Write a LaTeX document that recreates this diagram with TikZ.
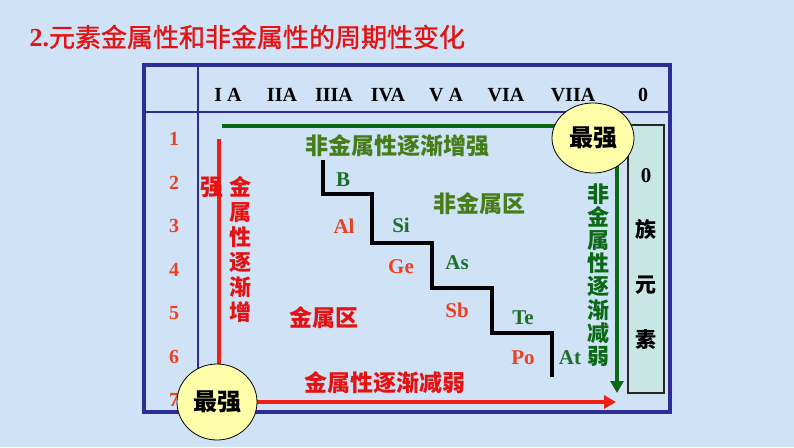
\documentclass[tikz,border=0pt]{standalone}
\usepackage{fontspec}
\setmainfont{Liberation Serif}
\newfontfamily\cjk{Noto Sans CJK SC}
\newfontfamily\cjktitle[FakeBold=1.2]{Noto Sans CJK SC}
\usetikzlibrary{shapes.geometric,arrows.meta}
\definecolor{bgblue}{RGB}{208,226,245}
\definecolor{frameblue}{RGB}{45,45,150}
\definecolor{titlered}{RGB}{228,18,18}
\definecolor{hotred}{RGB}{240,30,20}
\definecolor{lblred}{RGB}{235,65,35}
\definecolor{darkgreen}{RGB}{10,105,20}
\definecolor{lblgreen}{RGB}{70,125,25}
\definecolor{elgreen}{RGB}{30,110,40}
\definecolor{paleyellow}{RGB}{255,255,170}
\definecolor{palecyan}{RGB}{200,230,228}
\pgfdeclarelayer{under}
\pgfsetlayers{under,main}
\tikzset{
  frameline/.style={draw=frameblue,line width=4.5pt},
  gridline/.style={draw=frameblue,line width=2.5pt},
  grouplbl/.style={font=\fontsize{20}{20}\selectfont\bfseries},
  periodlbl/.style={font=\fontsize{20}{20}\selectfont\bfseries,text=lblred},
  metal/.style={font=\fontsize{21}{21}\selectfont\bfseries,text=lblred},
  nonmetal/.style={font=\fontsize{21}{21}\selectfont\bfseries,text=elgreen},
  cjklbl/.style={font=\cjk\fontsize{23}{23}\selectfont\bfseries,inner sep=0pt},
  maxbubble/.style={ellipse,draw=black,thick,fill=paleyellow,inner sep=0pt,
    font=\cjk\fontsize{24}{24}\selectfont\bfseries},
  redarrow/.style={draw=hotred,line width=4pt},
  greenarrow/.style={draw=darkgreen,line width=4pt},
  stair/.style={draw=black,line width=4pt},
  tip/.style={-{Triangle[length=12pt,width=13pt]}}
}
\begin{document}
\begin{tikzpicture}[x=1pt,y=-1pt]
  \useasboundingbox (0,0) rectangle (794,447);
  \begin{pgfonlayer}{under}
    \fill[bgblue] (0,0) rectangle (794,447);
  \end{pgfonlayer}
  \node[anchor=west,text=titlered,font=\fontsize{26}{26}\selectfont] (title) at (26,37)
    {\textbf{2.}{\cjktitle 元素金属性和非金属性的周期性变化}};
  % table frame
  \draw[frameline] (144,65) rectangle (670,412);
  \draw[gridline] (144,112) -- (670,112);
  \draw[gridline] (198,65) -- (198,412);
  \foreach \gx/\gname [count=\i] in {228/I A,282/IIA,334/IIIA,388/IVA,446/V A,506/VIA,573/VIIA,643/0} {
    \node[grouplbl] (grp\i) at (\gx,95) {\gname};
  }
  \foreach \r in {1,...,7} {
    \node[periodlbl] (per\r) at (174,{139+43.5*(\r-1)}) {\r};
  }
  % border between metals and nonmetals
  \draw[stair] (323,160) -- (323,194) -- (372,194) -- (372,243) -- (432,243)
    -- (432,288) -- (492,288) -- (492,333) -- (552,333) -- (552,377);
  \node[nonmetal] (B) at (343,180) {B};
  \node[metal] (Al) at (344,226) {Al};
  \node[nonmetal] (Si) at (401,225) {Si};
  \node[metal] (Ge) at (401,267) {Ge};
  \node[nonmetal] (As) at (457,263) {As};
  \node[metal] (Sb) at (457,310) {Sb};
  \node[nonmetal] (Te) at (523,318) {Te};
  \node[metal] (Po) at (523,358) {Po};
  \node[nonmetal] (At) at (570,358) {At};
  % labels
  \node[cjklbl,text=lblgreen] (nmup) at (397,146) {非金属性逐渐增强};
  \node[cjklbl,text=lblgreen] (nmzone) at (479,204) {非金属区};
  \node[cjklbl,text=titlered] (mzone) at (324,318) {金属区};
  \node[cjklbl,text=titlered] (mdown) at (385,383) {金属性逐渐减弱};
  \node[cjklbl,text=titlered] (qiang) at (212,187) {强};
  \node[cjklbl,text=titlered,align=center,font=\cjk\fontsize{22}{25}\selectfont\bfseries]
    (mup) at (240,250) {金\\属\\性\\逐\\渐\\增};
  \node[cjklbl,text=darkgreen,align=center,font=\cjk\fontsize{22}{23.2}\selectfont\bfseries]
    (nmdown) at (598,275) {非\\金\\属\\性\\逐\\渐\\减\\弱};
  \node[draw=black!85,line width=1.2pt,fill=palecyan,minimum width=36pt,minimum height=268pt,
    align=center,font=\fontsize{21}{55}\selectfont\bfseries] (noble) at (646,259)
    {0\\{\cjk 族}\\{\cjk 元}\\{\cjk 素}};
  % strongest corners
  \node[maxbubble,minimum width=82pt,minimum height=70pt] (nmmax) at (593,138) {最强};
  \node[maxbubble,minimum width=80pt,minimum height=76pt] (mmax) at (217,402) {最强};
  \coordinate (gstart) at (222,126);
  \coordinate (gend) at (617,393);
  \coordinate (rstart) at (219,139);
  \coordinate (rend) at (616,402);
  \begin{pgfonlayer}{under}
    \draw[greenarrow] (gstart) -- (gstart -| nmmax.center);
    \draw[greenarrow,tip] (nmmax.center -| gend) -- (gend);
    \draw[redarrow] (rstart) -- (rstart |- mmax.center);
    \draw[redarrow,tip] (mmax.center) -- (rend);
  \end{pgfonlayer}
\end{tikzpicture}
\end{document}
